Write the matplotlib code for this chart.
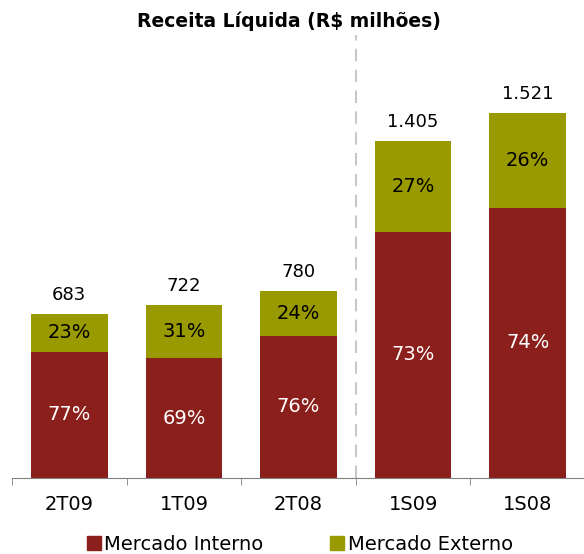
import numpy as np
import matplotlib.pyplot as plt
from matplotlib.lines import Line2D

# Dados
periodos = ['2T09', '1T09', '2T08', '1S09', '1S08']
totais = np.array([683, 722, 780, 1405, 1521])
totais_txt = ['683', '722', '780', '1.405', '1.521']
pct_interno = np.array([77, 69, 76, 73, 74])
pct_externo = np.array([23, 31, 24, 27, 26])

cor_interno = '#8B1F1B'
cor_externo = '#999900'

interno = totais * pct_interno / 100
externo = totais - interno

fig = plt.figure(figsize=(5.84, 5.54), dpi=100)
ax = fig.add_axes([12 / 584, 76 / 554, 573 / 584, 443 / 554])

x = np.arange(len(periodos))
ax.bar(x, interno, width=0.67, color=cor_interno)
ax.bar(x, externo, width=0.67, bottom=interno, color=cor_externo)

for i in range(len(x)):
    ax.text(x[i], interno[i] / 2, f'{pct_interno[i]}%', ha='center', va='center',
            color='white', fontsize=14)
    ax.text(x[i], interno[i] + externo[i] / 2, f'{pct_externo[i]}%', ha='center',
            va='center', color='black', fontsize=14)
    ax.annotate(totais_txt[i], (x[i], totais[i]), xytext=(0, 7),
                textcoords='offset points', ha='center', va='bottom', fontsize=13)

# separador entre trimestres e semestres
ax.axvline(2.5, color='#C8C8C8', linestyle=(0, (6, 4)), linewidth=1.5)

ax.set_xlim(-0.5, 4.5)
ax.set_ylim(0, 1846)
ax.set_xticks(x)
ax.set_xticklabels(periodos, fontsize=14)
ax.set_xticks(np.arange(-0.5, 5, 1), minor=True)
ax.tick_params(axis='x', which='major', length=0, pad=12)
ax.tick_params(axis='x', which='minor', length=5, color='#808080')
ax.set_yticks([])
for s in ['top', 'right', 'left']:
    ax.spines[s].set_visible(False)
ax.spines['bottom'].set_color('#808080')

fig.text(0.494, 0.962, 'Receita Líquida (R$ milhões)', ha='center', va='center',
         fontsize=13.5, fontweight='bold')

handles = [Line2D([], [], marker='s', linestyle='', markersize=9.5, color=cor_interno),
           Line2D([], [], marker='s', linestyle='', markersize=9.5, color=cor_externo)]
fig.legend(handles, ['Mercado Interno', 'Mercado Externo'], loc='center',
           bbox_to_anchor=(0.513, 0.017), ncol=2, frameon=False, fontsize=14,
           handletextpad=0.15, columnspacing=3.4, handlelength=0.8,
           borderpad=0, borderaxespad=0)

fig.savefig('out.png', dpi=100)
